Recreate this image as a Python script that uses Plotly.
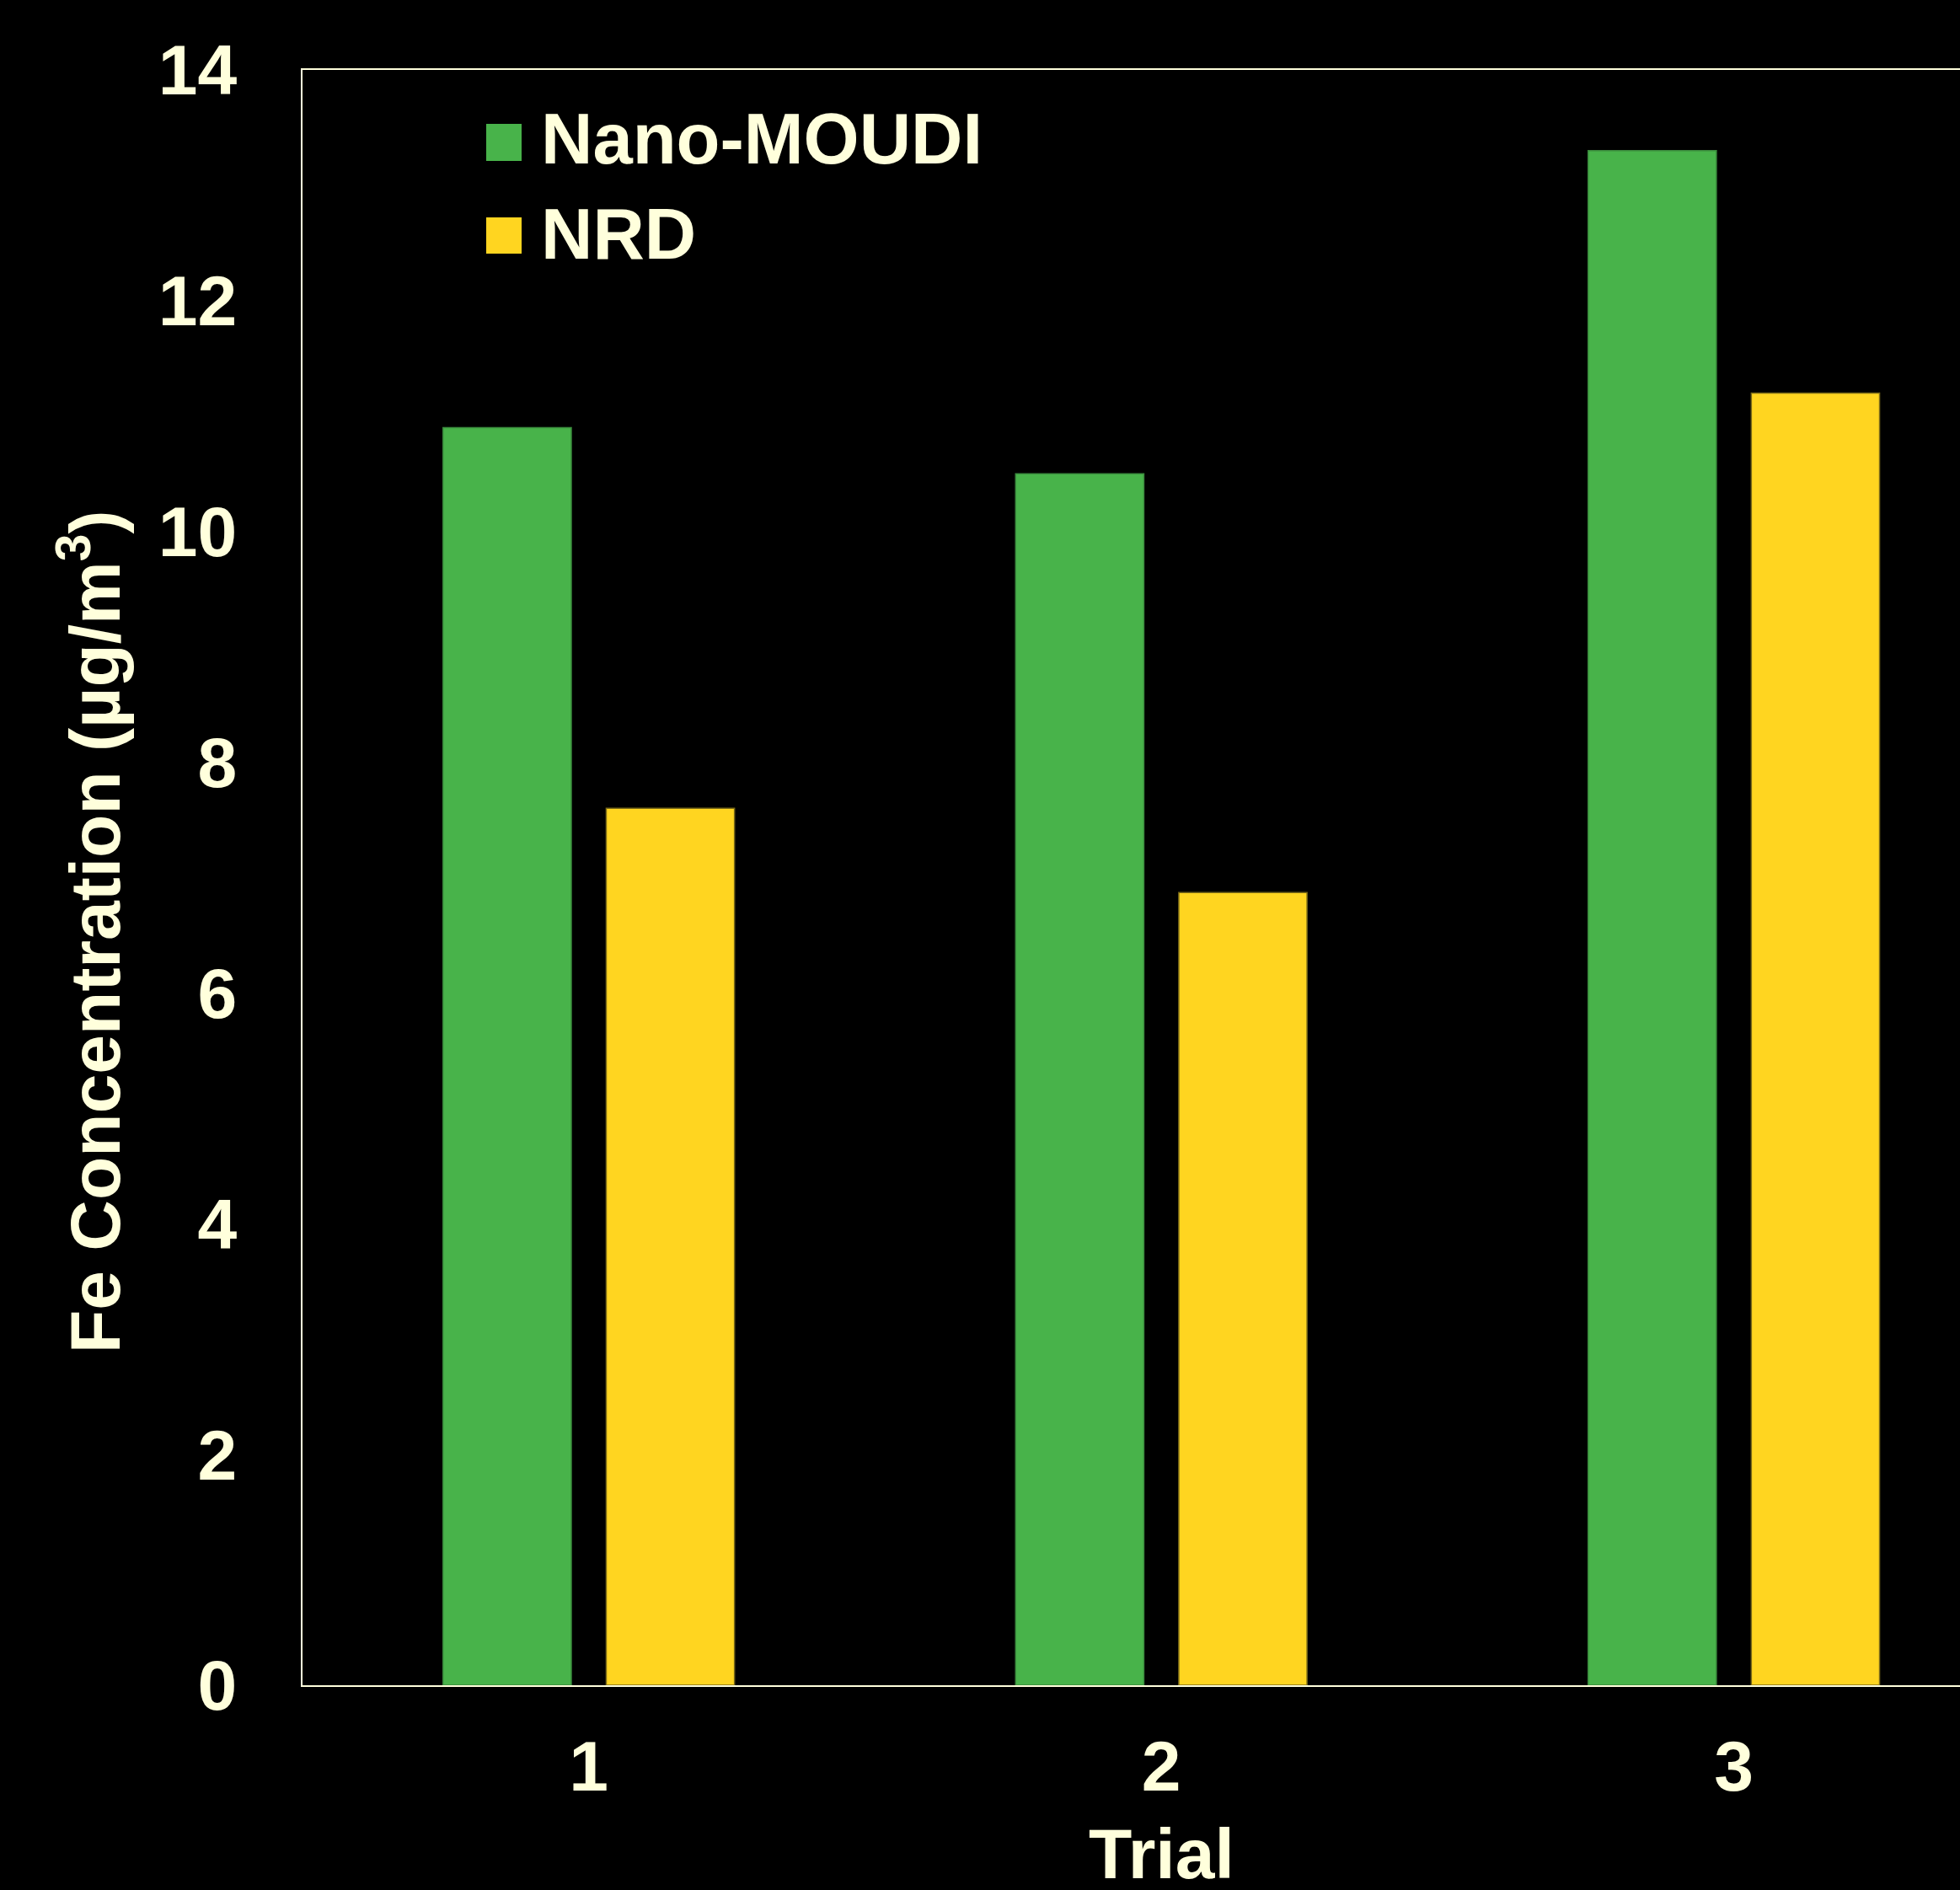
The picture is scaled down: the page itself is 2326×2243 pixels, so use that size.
import plotly.graph_objects as go

trials = [1, 2, 3]
tick_labels = ["1", "2", "3"]
nano_moudi = [10.90, 10.50, 13.30]
nrd = [7.60, 6.87, 11.20]
series_names = ["Nano-MOUDI", "NRD"]
series_colors = ["#48B34A", "#FFD520"]
outline_colors = ["#3A8A3C", "#7A6A18"]

TXT = "#FFFFDC"
FONT = "Arial, Liberation Sans, sans-serif"

W, H = 2326, 2243
ML, MR, MT, MB = 359, 0, 83, 243
PW, PH = W - ML - MR, H - MT - MB

fig = go.Figure()
for name, vals, col, oc in zip(series_names, [nano_moudi, nrd], series_colors, outline_colors):
    fig.add_trace(go.Bar(x=trials, y=vals, name=name, marker_color=col,
                         marker_line_color=oc, marker_line_width=1.5, showlegend=False))

def px_to_paper_x(px):
    return (px - ML) / PW

def px_to_paper_y(py):
    return (MT + PH - py) / PH

# manual legend (large squares like the original)
legend_rows = [(147, 191, 165), (258, 301, 277)]
for (y0, y1, yc), name, col in zip(legend_rows, series_names, series_colors):
    fig.add_shape(type="rect", xref="paper", yref="paper",
                  x0=px_to_paper_x(577), x1=px_to_paper_x(619),
                  y0=px_to_paper_y(y1), y1=px_to_paper_y(y0),
                  fillcolor=col, line_width=0)
    fig.add_annotation(xref="paper", yref="paper", x=px_to_paper_x(640), y=px_to_paper_y(yc),
                       xanchor="left", yanchor="middle", showarrow=False, text=name,
                       font=dict(family=FONT, size=85, color=TXT, weight="bold"))

fig.add_annotation(xref="paper", yref="paper", x=px_to_paper_x(107), y=px_to_paper_y(1106),
                   xanchor="center", yanchor="middle", showarrow=False, textangle=-90,
                   text="Fe Concentration (µg/m<sup>3</sup>)",
                   font=dict(family=FONT, size=84, color=TXT, weight="bold"))
fig.add_annotation(xref="x", yref="paper", x=2, y=px_to_paper_y(2200),
                   xanchor="center", yanchor="middle", showarrow=False, text="Trial",
                   font=dict(family=FONT, size=84, color=TXT, weight="bold"))

fig.update_layout(
    width=W, height=H,
    margin=dict(l=ML, r=MR, t=MT, b=MB, pad=0),
    paper_bgcolor="black", plot_bgcolor="black",
    barmode="group", bargap=0.43, bargroupgap=0.214,
    showlegend=False,
    font=dict(family=FONT, color=TXT),
)
fig.update_xaxes(range=[0.5, 3.395], tickvals=trials, ticktext=tick_labels,
                 showgrid=False, zeroline=False, showline=True, mirror=True,
                 linecolor=TXT, linewidth=2, ticks="outside", ticklen=22,
                 tickcolor="rgba(0,0,0,0)",
                 tickfont=dict(family=FONT, size=84, color=TXT, weight="bold"))
fig.update_yaxes(range=[0, 14], dtick=2, showgrid=False, zeroline=False,
                 showline=True, linecolor=TXT, linewidth=2, ticks="outside",
                 ticklen=59, tickcolor="rgba(0,0,0,0)",
                 tickfont=dict(family=FONT, size=84, color=TXT, weight="bold"))

fig.write_html(
    "out.html",
    config={"displayModeBar": False},
    post_script="document.body.style.margin='0';document.body.style.padding='0';"
                "document.body.style.background='black';document.body.style.overflow='hidden';",
)
